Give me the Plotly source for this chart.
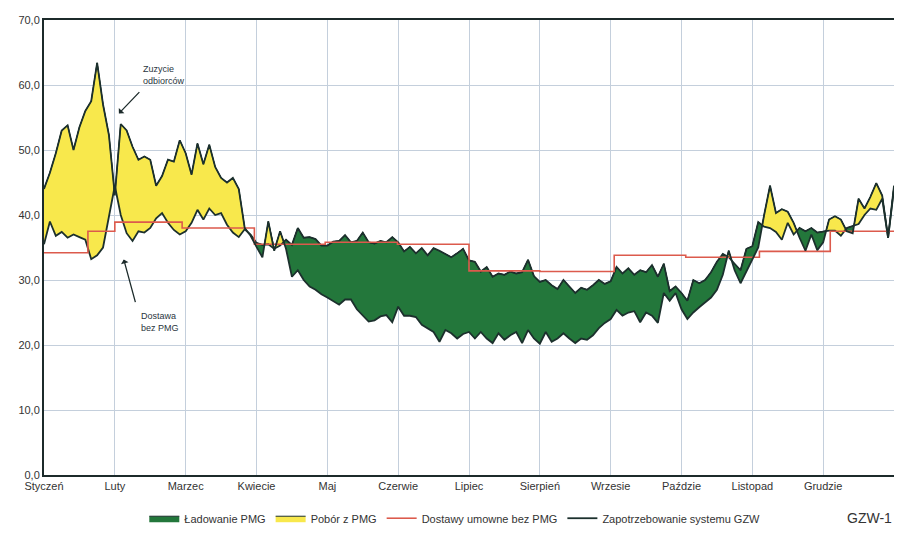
import numpy as np
import plotly.graph_objects as go

# Month tick labels (x axis: one unit per month)
months = ["Styczeń", "Luty", "Marzec", "Kwiecie", "Maj", "Czerwie", "Lipiec",
          "Sierpień", "Wrzesie", "Paździe", "Listopad", "Grudzie", ""]

# Zużycie odbiorców (system demand), sampled every 1/12 month
consumption = [
    44.0, 46.5, 49.5, 53.0, 53.8, 50.0, 53.5, 56.0, 57.5, 63.4, 57.0, 52.3,
    43.0, 54.0, 53.0, 50.5, 48.5, 49.0, 48.5, 44.5, 46.0, 48.5, 48.2, 51.5,
    49.5, 46.2, 51.0, 47.8, 50.8, 47.4, 45.7, 45.0, 45.7, 44.0, 38.0, 36.8,
    35.1, 33.5, 39.0, 34.5, 37.5, 34.8, 30.5, 31.5, 30.0, 29.0, 28.5, 27.8,
    27.3, 26.8, 26.2, 27.0, 27.0, 25.5, 24.6, 23.6, 23.8, 24.4, 24.6, 23.5,
    25.9, 24.5, 24.5, 24.3, 23.1, 22.5, 22.0, 20.5, 22.3, 21.8, 21.0, 21.7,
    22.0, 21.0, 22.0, 21.0, 20.3, 21.8, 20.8, 21.5, 22.0, 20.3, 22.3, 21.0,
    20.2, 22.0, 20.5, 21.0, 21.8, 21.0, 20.3, 21.0, 20.8, 21.5, 22.6, 23.4,
    24.0, 25.4, 24.5, 25.0, 25.2, 23.5, 25.0, 24.5, 23.4, 28.0, 26.8, 28.0,
    25.5, 24.0, 25.0, 25.8, 26.5, 27.3, 28.5, 30.8, 34.5, 31.5, 29.5, 31.3,
    33.0, 35.0, 40.0, 44.5, 40.3, 40.9, 40.5, 38.8, 36.5, 34.5, 37.0, 34.6,
    35.8, 39.3, 39.8, 39.3, 37.5, 37.2, 42.5, 41.0, 42.8, 44.9, 43.0, 36.5,
    44.5,
]

# Dostawa bez PMG (deliveries without storage), same sampling
delivery = [
    35.5, 39.0, 36.8, 37.4, 36.5, 37.0, 36.6, 36.2, 33.2, 33.8, 35.0, 39.8,
    44.5, 40.0, 37.2, 36.0, 37.5, 37.3, 38.0, 39.5, 40.3, 38.8, 37.7, 37.0,
    37.5, 38.8, 40.8, 39.3, 41.0, 40.0, 40.3, 38.5, 37.3, 36.6, 37.8, 37.0,
    35.7, 35.4, 35.5, 34.8, 35.3, 36.2, 35.4, 38.0, 36.5, 36.6, 36.3, 35.3,
    35.3, 35.9, 36.0, 36.9, 35.8, 36.0, 37.3, 35.8, 35.6, 36.0, 35.8, 36.6,
    35.8, 34.4, 35.1, 34.1, 34.9, 33.8, 34.9, 34.5, 34.0, 33.5, 34.1, 34.8,
    33.0, 32.8, 31.3, 32.0, 30.5, 31.0, 30.8, 31.3, 31.0, 31.2, 33.1, 30.6,
    29.7, 30.0, 29.2, 28.6, 30.0, 29.0, 28.0, 28.8, 28.5, 29.2, 30.0, 29.4,
    29.8, 32.0, 31.0, 31.8, 30.8, 31.5, 31.2, 32.3, 30.5, 32.5, 28.3, 29.0,
    28.0, 26.8, 30.0, 29.5, 30.0, 31.2, 32.8, 34.0, 33.5, 32.5, 31.5, 34.8,
    35.2, 38.9, 38.2, 38.0, 37.4, 36.2, 38.8, 37.0, 38.0, 37.5, 38.0, 37.3,
    37.5, 37.6, 37.6, 36.8, 38.0, 38.3, 38.6, 40.0, 41.0, 40.8, 42.5, 36.5,
    44.0,
]

# Dostawy umowne bez PMG (contracted deliveries), step function
contract_x = [0.0, 0.62, 1.0, 1.95, 2.97, 3.97, 4.99, 6.0, 7.0, 8.05, 9.06, 10.1, 11.1, 12.0]
contract_y = [34.2, 37.5, 38.9, 38.0, 35.5, 35.8, 35.5, 31.4, 31.3, 33.8, 33.5, 34.4, 37.5, 37.5]

GREEN = "#23773b"
YELLOW = "#f8e84c"
DARK = "#1c302d"
RED = "#dc5a4c"

n = len(consumption)
xs = np.arange(n) / 12.0

# insert crossing points so the two fills meet exactly
X, Cc, Dd = [], [], []
for i in range(n):
    if i > 0:
        d0 = consumption[i - 1] - delivery[i - 1]
        d1 = consumption[i] - delivery[i]
        if d0 * d1 < 0:
            t = d0 / (d0 - d1)
            xc = xs[i - 1] + t * (xs[i] - xs[i - 1])
            yc = consumption[i - 1] + t * (consumption[i] - consumption[i - 1])
            X.append(xc); Cc.append(yc); Dd.append(yc)
    X.append(xs[i]); Cc.append(consumption[i]); Dd.append(delivery[i])
X = np.array(X); Cc = np.array(Cc); Dd = np.array(Dd)
top = np.maximum(Cc, Dd)

fig = go.Figure()
# green: delivery above consumption
fig.add_trace(go.Scatter(x=X, y=Cc, mode="lines", line=dict(width=0),
                         showlegend=False, hoverinfo="skip"))
fig.add_trace(go.Scatter(x=X, y=top, mode="lines", fill="tonexty", fillcolor=GREEN,
                         line=dict(width=1, color=DARK), name="Ładowanie PMG",
                         legendrank=1, hoverinfo="skip"))
# yellow: consumption above delivery
fig.add_trace(go.Scatter(x=X, y=Dd, mode="lines", line=dict(width=0),
                         showlegend=False, hoverinfo="skip"))
fig.add_trace(go.Scatter(x=X, y=top, mode="lines", fill="tonexty", fillcolor=YELLOW,
                         line=dict(width=1, color=DARK), name="Pobór z PMG",
                         legendrank=2, hoverinfo="skip"))
# black lines
fig.add_trace(go.Scatter(x=xs, y=delivery, mode="lines",
                         line=dict(color=DARK, width=1.8), showlegend=False))
fig.add_trace(go.Scatter(x=contract_x, y=contract_y, mode="lines", line_shape="hv",
                         line=dict(color=RED, width=1.6), name="Dostawy umowne bez PMG",
                         legendrank=3))
fig.add_trace(go.Scatter(x=xs, y=consumption, mode="lines",
                         line=dict(color=DARK, width=1.8),
                         name="Zapotrzebowanie systemu GZW", legendrank=4))

# page body has an 8px margin; keep the figure inside the window (no scrollbars)
fig.update_layout(
    width=886, height=520,
    margin=dict(l=36, r=0, t=12, b=53, autoexpand=False),
    paper_bgcolor="white", plot_bgcolor="white",
    separators=", ",
    font=dict(family="Liberation Sans, Arial, sans-serif", size=11, color="#333"),
    showlegend=True,
    legend=dict(orientation="h", x=0.118, xanchor="left", y=-0.095, yanchor="middle",
                font=dict(size=11, color="#333"), itemwidth=30, traceorder="normal",
                bgcolor="rgba(0,0,0,0)"),
    xaxis=dict(range=[0, 12], tickmode="array", tickvals=list(range(13)),
               ticktext=months, showgrid=True, gridcolor="#c4cfdc", gridwidth=1,
               showline=True, linecolor="#1c2a2a", linewidth=2, mirror=True,
               ticks="", zeroline=False, automargin=False,
               tickfont=dict(size=11, color="#333")),
    yaxis=dict(range=[0, 70], dtick=10, tickformat=".1f", showgrid=True,
               gridcolor="#c4cfdc", gridwidth=1, showline=True, linecolor="#1c2a2a",
               linewidth=2, ticks="", zeroline=False, automargin=False,
               tickfont=dict(size=11, color="#333")),
)

fig.add_annotation(x=1.346, y=58.9, ax=1.037, ay=55.4, axref="x", ayref="y",
                   xref="x", yref="y", text="", showarrow=True, arrowhead=2,
                   arrowsize=1, arrowwidth=1.3, arrowcolor="#1c2a2a", arrowside="start")
fig.add_annotation(x=1.374, y=61.5, xref="x", yref="y", text="Zuzycie<br>odbiorców",
                   showarrow=False, xanchor="left", align="left",
                   font=dict(size=9, color="#2a3540"))
fig.add_annotation(x=1.29, y=26.6, ax=1.12, ay=33.4, axref="x", ayref="y",
                   xref="x", yref="y", text="", showarrow=True, arrowhead=2,
                   arrowsize=1, arrowwidth=1.3, arrowcolor="#1c2a2a", arrowside="start")
fig.add_annotation(x=1.346, y=23.5, xref="x", yref="y", text="Dostawa<br>bez PMG",
                   showarrow=False, xanchor="left", align="left",
                   font=dict(size=9, color="#2a3540"))
fig.add_annotation(x=1.0, y=-0.095, xref="paper", yref="paper", text="GZW-1",
                   showarrow=False, xanchor="right", yanchor="middle",
                   font=dict(size=14, color="#333"))

fig.write_html("out.html")
